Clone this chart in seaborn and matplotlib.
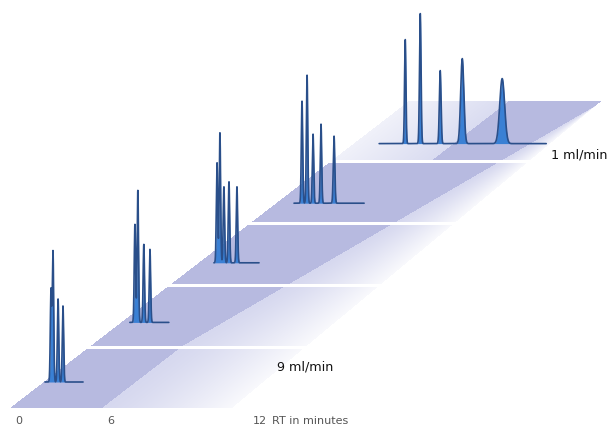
import numpy as np
import pandas as pd
import matplotlib
matplotlib.use("Agg")
import matplotlib.pyplot as plt
import seaborn as sns

# ---- data -------------------------------------------------------------
# flow rates, front strip to back strip
FLOW_RATES = [9, 7, 5, 3, 1]
FLOW_LABELS = {9: "9 ml/min", 1: "1 ml/min"}

# retention-time axis along the front edge
RT_TICKS = [0, 6, 12]
RT_TICK_LABELS = ["0", "6", "12"]
RT_AXIS_TITLE = "RT in minutes"

# peak retention times (min), heights (mAU) and widths (min) per flow rate
PEAK_RT = {
    9: [0.47, 0.60, 0.93, 1.25],
    7: [0.89, 1.08, 1.47, 1.87],
    5: [1.19, 1.38, 1.64, 1.97, 2.49],
    3: [1.68, 2.01, 2.40, 2.92, 3.77],
    1: [3.36, 4.34, 5.64, 6.68, 8.32],
}
PEAK_HEIGHT = {
    9: [92, 130, 83, 76],
    7: [98, 132, 78, 73],
    5: [100, 130, 76, 81, 76],
    3: [102, 128, 69, 79, 67],
    1: [104, 130, 73, 85, 65],
}
PEAK_SIGMA = {
    9: [0.045, 0.045, 0.045, 0.045],
    7: [0.045, 0.045, 0.045, 0.045],
    5: [0.045, 0.045, 0.045, 0.045, 0.045],
    3: [0.045, 0.045, 0.045, 0.045, 0.05],
    1: [0.045, 0.05, 0.055, 0.065, 0.10],
}
# recorded window of each run (min)
RUN_WINDOW = {9: (0.08, 2.56), 7: (0.56, 3.10), 5: (0.99, 3.93),
              3: (1.16, 5.73), 1: (1.66, 10.13)}

# ---- oblique projection of the (RT, flow) floor -----------------------
W, H = 611, 429
FRONT_Y = 408          # front edge of the floor
ORIGIN_X = 10          # RT = 0 on the front edge
SKEW = 1.3             # horizontal shift per unit of depth
STRIP_DEPTH = 62       # depth of one strip
STRIP_GAP = 3
TICK_PX = [0, 92, 238]  # RT ticks along a strip


def rt_to_px(rt):
    return np.interp(rt, RT_TICKS, TICK_PX, right=None)


def left_edge(y):
    return ORIGIN_X + (FRONT_Y - y) * SKEW


def baseline_y(k):
    return FRONT_Y - STRIP_DEPTH * k - (26 - 2.4 * k)


# ---- floor strips -----------------------------------------------------
dark = np.array([0.72, 0.73, 0.88])
light = np.array([0.84, 0.85, 0.94])
yy, xx = np.mgrid[0:H, 0:W] + 0.5
z = (FRONT_Y - yy) / STRIP_DEPTH
k_idx = np.floor(z)
frac = z - k_idx
s = xx - left_edge(yy)
inside = (z >= 0) & (k_idx < len(FLOW_RATES)) & (frac < (STRIP_DEPTH - STRIP_GAP) / STRIP_DEPTH)

# pale stretch under the back chromatogram, dark band, fading light band
a = np.where(k_idx >= len(FLOW_RATES) - 1, 100.0, 0.0)
b = TICK_PX[1] + np.maximum(0, 26 * (z - 1))
R = 222 - 6 * z

img = np.zeros((H, W, 4))
m_left = inside & (s >= 0) & (s < a)
pale = np.clip(s / 100.0, 0, 1)
for c in range(3):
    img[..., c] = np.where(m_left, 1 - (1 - light[c]) * (0.35 + 0.55 * pale), img[..., c])
img[m_left, 3] = 1.0

m_dark = inside & (s >= a) & (s < np.minimum(b, R))
img[m_dark, :3] = dark
img[m_dark, 3] = 1.0

m_light = inside & (s >= b) & (s < R)
t = np.clip((s - b) / np.maximum(R - b, 1), 0, 1)
img[m_light, :3] = light
img[m_light, 3] = (1.0 - 0.85 * t ** 1.3)[m_light]

# ---- chromatogram traces ---------------------------------------------
frames = []
for k, flow in enumerate(FLOW_RATES):
    t0, t1 = RUN_WINDOW[flow]
    rt = np.linspace(t0, t1, 5000)
    sig = np.zeros_like(rt)
    for mu, h, sd in zip(PEAK_RT[flow], PEAK_HEIGHT[flow], PEAK_SIGMA[flow]):
        sig += h * np.exp(-0.5 * ((rt - mu) / sd) ** 2)
    yb = baseline_y(k)
    frames.append(pd.DataFrame({
        "x": left_edge(yb) + rt_to_px(rt),
        "y": yb - sig,
        "base": yb,
        "flow": flow,
    }))
traces = pd.concat(frames, ignore_index=True)

# ---- figure ------------------------------------------------------------
sns.set_theme(style="white")
fig = plt.figure(figsize=(W / 100, H / 100), dpi=100)
ax = fig.add_axes([0, 0, 1, 1])
ax.set_xlim(0, W)
ax.set_ylim(H, 0)
ax.axis("off")

ax.imshow(img, extent=(0, W, H, 0), interpolation="bilinear", zorder=0)

for flow, grp in traces.groupby("flow", sort=False):
    ax.fill_between(grp["x"], grp["base"], grp["y"], color="#3a80d4",
                    lw=0, zorder=2)
sns.lineplot(data=traces, x="x", y="y", units="flow", estimator=None,
             sort=False, color="#2a4f8a", lw=1.2, ax=ax, zorder=3,
             legend=False)
ax.set_xlabel("")
ax.set_ylabel("")

# flow-rate labels
label_pos = {9: (277, 367), 1: (551, 155)}
for flow in FLOW_RATES:
    if flow in FLOW_LABELS:
        ax.text(*label_pos[flow], FLOW_LABELS[flow], fontsize=9.2,
                color="#111111", va="center", ha="left")

# RT axis labels on the front edge
for rt, lab in zip(RT_TICKS, RT_TICK_LABELS):
    ax.text(left_edge(FRONT_Y) + rt_to_px(rt) + 5, 421, lab, fontsize=8,
            color="#555555", va="center", ha="left")
ax.text(left_edge(FRONT_Y) + rt_to_px(RT_TICKS[-1]) + 24, 421, RT_AXIS_TITLE,
        fontsize=8, color="#555555", va="center", ha="left")

fig.savefig("out.png", dpi=100)
